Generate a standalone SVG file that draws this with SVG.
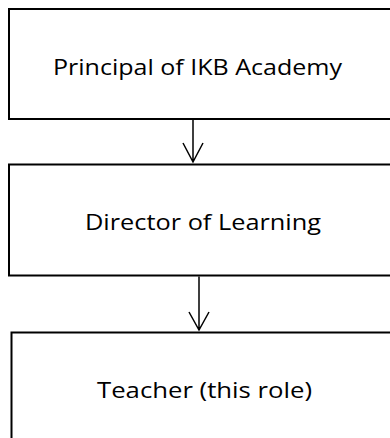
<svg xmlns="http://www.w3.org/2000/svg" width="390" height="438" viewBox="0 0 390 438">
<style>
.box{fill:#fff;stroke:#000;stroke-width:2}
.lbl{font-family:"Open Sans",Lato,"Liberation Sans",sans-serif;font-size:21px;fill:#000;text-anchor:middle}
.con{fill:none;stroke:#000;stroke-width:1.5}
</style>
<rect width="390" height="438" fill="#fff"/>
<g id="principal">
<rect class="box" x="9" y="9" width="400" height="110"/>
<text class="lbl" x="197.5" y="75" textLength="289" lengthAdjust="spacingAndGlyphs">Principal of IKB Academy</text>
</g>
<g id="director">
<rect class="box" x="9" y="164.5" width="400" height="111"/>
<text class="lbl" x="203" y="230" textLength="236" lengthAdjust="spacingAndGlyphs">Director of Learning</text>
</g>
<g id="teacher">
<rect class="box" x="11.5" y="332.5" width="400" height="120"/>
<text class="lbl" x="204.5" y="398" textLength="215" lengthAdjust="spacingAndGlyphs">Teacher (this role)</text>
</g>
<g id="connectors">
<path class="con" d="M193 120 V162 M183 143 L193 162 L203 143"/>
<path class="con" d="M199 276.5 V330 M189 312 L199 330 L209 312"/>
</g>
</svg>
